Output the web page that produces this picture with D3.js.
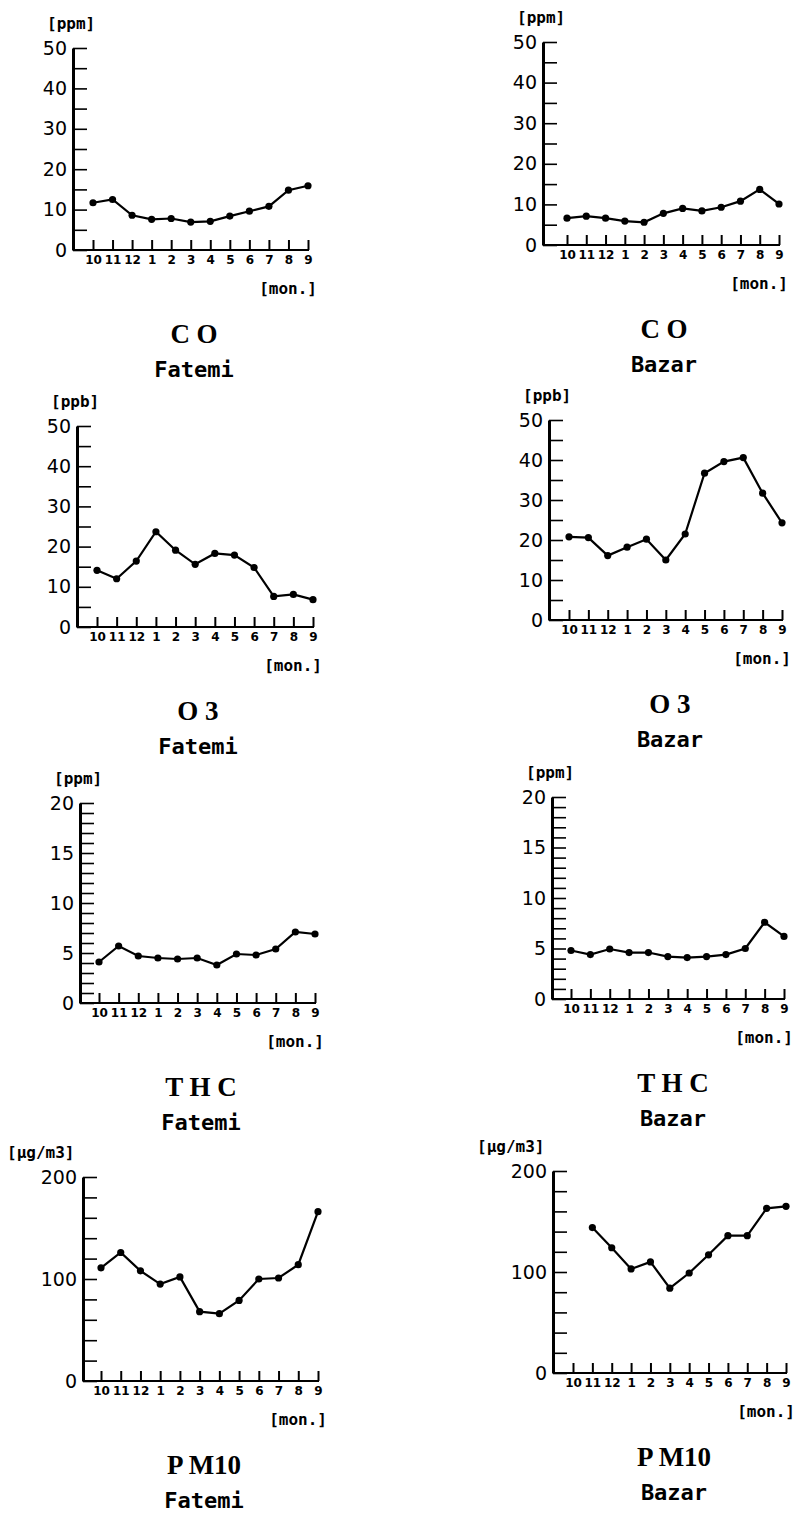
<!DOCTYPE html>
<html>
<head>
<meta charset="utf-8">
<script src="https://cdn.jsdelivr.net/npm/d3@7"></script>
<style>
  body { margin: 0; background: #fff; }
  svg { display: block; }
</style>
</head>
<body>
<div id="chart"></div>
<script>
// Data
const months = ["10", "11", "12", "1", "2", "3", "4", "5", "6", "7", "8", "9"];

const coFatemi   = [11.7, 12.5, 8.6, 7.6, 7.8, 6.9, 7.1, 8.4, 9.6, 10.8, 14.8, 15.9];
const coBazar    = [6.6, 7.1, 6.6, 5.9, 5.6, 7.8, 9.0, 8.4, 9.3, 10.8, 13.7, 10.1];
const o3Fatemi   = [14.1, 12.0, 16.4, 23.7, 19.1, 15.6, 18.3, 17.9, 14.8, 7.6, 8.1, 6.8];
const o3Bazar    = [20.8, 20.6, 16.1, 18.2, 20.2, 15.0, 21.5, 36.7, 39.6, 40.6, 31.7, 24.3];
const thcFatemi  = [4.1, 5.7, 4.7, 4.5, 4.4, 4.5, 3.8, 4.9, 4.8, 5.4, 7.1, 6.9];
const thcBazar   = [4.8, 4.4, 4.95, 4.6, 4.6, 4.2, 4.1, 4.2, 4.4, 5.0, 7.6, 6.2];
const pm10Fatemi = [111, 126, 108, 95, 102, 68, 66, 79, 100, 101, 114, 166];
const pm10Bazar  = [null, 144, 124, 103, 110, 84, 99, 117, 136, 136, 163, 165];

const ticks50  = [0, 10, 20, 30, 40, 50];
const ticks20  = [0, 5, 10, 15, 20];
const ticks200 = [0, 100, 200];

// Panel layout (pixel geometry of each small plot)
const panels = [
    { values: coFatemi,   unit: "[ppm]",   gas: "C O",   site: "Fatemi", ticks: ticks50,  minor: 5,  x0: 73,  y0: 250,  yTop: 48,   xFirst: 93,  xLast: 308 },
    { values: coBazar,    unit: "[ppm]",   gas: "C O",   site: "Bazar",  ticks: ticks50,  minor: 5,  x0: 543, y0: 245,  yTop: 42,   xFirst: 567, xLast: 779 },
    { values: o3Fatemi,   unit: "[ppb]",   gas: "O 3",   site: "Fatemi", ticks: ticks50,  minor: 5,  x0: 77,  y0: 627,  yTop: 426,  xFirst: 97,  xLast: 313 },
    { values: o3Bazar,    unit: "[ppb]",   gas: "O 3",   site: "Bazar",  ticks: ticks50,  minor: 5,  x0: 549, y0: 620,  yTop: 420,  xFirst: 569, xLast: 782 },
    { values: thcFatemi,  unit: "[ppm]",   gas: "T H C", site: "Fatemi", ticks: ticks20,  minor: 1,  x0: 80,  y0: 1003, yTop: 803,  xFirst: 99,  xLast: 315 },
    { values: thcBazar,   unit: "[ppm]",   gas: "T H C", site: "Bazar",  ticks: ticks20,  minor: 1,  x0: 552, y0: 999,  yTop: 797,  xFirst: 571, xLast: 784 },
    { values: pm10Fatemi, unit: "[μg/m3]", gas: "P M10", site: "Fatemi", ticks: ticks200, minor: 20, x0: 83,  y0: 1381, yTop: 1177, xFirst: 101, xLast: 318 },
    { values: pm10Bazar,  unit: "[μg/m3]", gas: "P M10", site: "Bazar",  ticks: ticks200, minor: 20, x0: 553, y0: 1373, yTop: 1171, xFirst: 573, xLast: 786 }
];

const width = 796;
const height = 1516;

const svg = d3.select("#chart")
    .append("svg")
    .attr("width", width)
    .attr("height", height);

svg.append("rect").attr("width", width).attr("height", height).attr("fill", "#fff");

panels.forEach(p => {
    const g = svg.append("g");
    const yMax = p.ticks[p.ticks.length - 1];

    const x = d3.scalePoint().domain(months).range([p.xFirst, p.xLast]);
    const y = d3.scaleLinear().domain([0, yMax]).range([p.y0, p.yTop]);

    // y axis: inward ticks, labels only on major values
    const allTicks = d3.range(0, yMax + p.minor / 2, p.minor);
    const yAxis = d3.axisLeft(y)
        .tickValues(allTicks)
        .tickSize(-14)
        .tickSizeOuter(0)
        .tickPadding(6)
        .tickFormat(d => p.ticks.includes(d) ? d : "");

    const ya = g.append("g")
        .attr("transform", `translate(${p.x0},0)`)
        .call(yAxis);
    ya.select(".domain").attr("stroke-width", 3).attr("stroke", "#000");
    ya.selectAll(".tick line").attr("stroke-width", 1.6).attr("stroke", "#000");
    ya.selectAll(".tick text")
        .style("font-family", "DejaVu Sans")
        .style("font-size", "19px")
        .attr("fill", "#000");

    // x axis: short upward ticks per month
    const xAxis = d3.axisBottom(x)
        .tickSize(-10)
        .tickSizeOuter(0)
        .tickPadding(5);

    const xa = g.append("g")
        .attr("transform", `translate(0,${p.y0})`)
        .call(xAxis);
    xa.select(".domain").remove();
    xa.selectAll(".tick line").attr("stroke-width", 2).attr("stroke", "#000");
    xa.selectAll(".tick text")
        .style("font-family", "DejaVu Sans")
        .style("font-weight", "bold")
        .style("font-size", "12px")
        .attr("fill", "#000");

    g.append("line")
        .attr("x1", p.x0).attr("x2", p.xLast + 1)
        .attr("y1", p.y0).attr("y2", p.y0)
        .attr("stroke", "#000")
        .attr("stroke-width", 2);

    // series
    const pts = months.map((m, i) => ({ m, v: p.values[i] })).filter(d => d.v != null);

    g.append("path")
        .datum(pts)
        .attr("fill", "none")
        .attr("stroke", "#000")
        .attr("stroke-width", 2.2)
        .attr("d", d3.line().x(d => x(d.m)).y(d => y(d.v)));

    g.selectAll("circle.pt")
        .data(pts)
        .enter().append("circle")
        .attr("class", "pt")
        .attr("cx", d => x(d.m))
        .attr("cy", d => y(d.v))
        .attr("r", 3.6)
        .attr("fill", "#000");

    // unit labels
    g.append("text")
        .attr("x", p.x0 - (p.unit.length > 5 ? 76 : 26))
        .attr("y", p.yTop - 25)
        .attr("dy", "0.35em")
        .style("font-family", "DejaVu Sans Mono")
        .style("font-weight", "bold")
        .style("font-size", "16px")
        .text(p.unit);

    g.append("text")
        .attr("x", p.xLast + 9)
        .attr("y", p.y0 + 38)
        .attr("dy", "0.35em")
        .attr("text-anchor", "end")
        .style("font-family", "DejaVu Sans Mono")
        .style("font-weight", "bold")
        .style("font-size", "16px")
        .text("[mon.]");

    // titles under each plot
    g.append("text")
        .attr("x", p.x0 + 121)
        .attr("y", p.y0 + 93)
        .attr("text-anchor", "middle")
        .style("font-family", "Liberation Serif")
        .style("font-weight", "bold")
        .style("font-size", "27px")
        .text(p.gas);

    g.append("text")
        .attr("x", p.x0 + 121)
        .attr("y", p.y0 + 127)
        .attr("text-anchor", "middle")
        .style("font-family", "DejaVu Sans Mono")
        .style("font-weight", "bold")
        .style("font-size", "22px")
        .text(p.site);
});
</script>
</body>
</html>
